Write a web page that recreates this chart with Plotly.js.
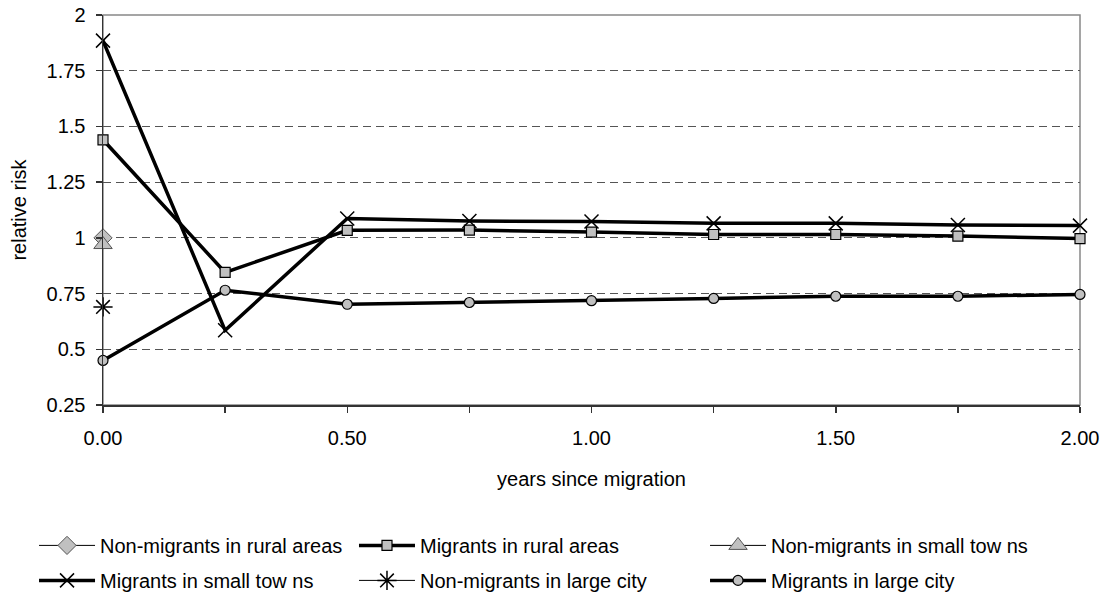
<!DOCTYPE html>
<html>
<head>
<meta charset="utf-8">
<script src="https://cdn.plot.ly/plotly-3.0.1.min.js"></script>
<style>html,body{margin:0;padding:0;background:#fff;}#chart{width:1109px;height:601px;}</style>
</head>
<body>
<div id="chart"></div>
<script>
// years since migration
const years = [0, 0.25, 0.5, 0.75, 1.0, 1.25, 1.5, 1.75, 2.0];
const baseYear = [0];

// series values (relative risk)
const nonMigrantsRural = [1.0];
const migrantsRural = [1.44, 0.845, 1.034, 1.035, 1.026, 1.015, 1.015, 1.008, 0.997];
const nonMigrantsSmallTowns = [0.97];
const migrantsSmallTowns = [1.885, 0.585, 1.087, 1.076, 1.073, 1.065, 1.065, 1.058, 1.055];
const nonMigrantsLargeCity = [0.69];
const migrantsLargeCity = [0.45, 0.765, 0.702, 0.71, 0.718, 0.728, 0.738, 0.738, 0.746];

const seriesNames = [
  "Non-migrants in rural areas",
  "Migrants in rural areas",
  "Non-migrants in small tow ns",
  "Migrants in small tow ns",
  "Non-migrants in large city",
  "Migrants in large city"
];

const xTickVals = [0, 0.5, 1.0, 1.5, 2.0];
const yTickVals = [0.25, 0.5, 0.75, 1, 1.25, 1.5, 1.75, 2];

const FONT = "Liberation Sans, Arial, sans-serif";
const GRAY = "#c0c0c0";

const traces = [
  {x: baseYear, y: nonMigrantsRural, name: seriesNames[0], legend: "legend",
   line: {color: "#000", width: 1},
   marker: {symbol: "diamond", size: 14, color: GRAY, line: {color: "#555", width: 1}}},
  {x: years, y: migrantsRural, name: seriesNames[1], legend: "legend2",
   line: {color: "#000", width: 3.5},
   marker: {symbol: "square", size: 10, color: GRAY, line: {color: "#000", width: 1.2}}},
  {x: baseYear, y: nonMigrantsSmallTowns, name: seriesNames[2], legend: "legend3",
   line: {color: "#000", width: 1},
   marker: {symbol: "triangle-up", size: 16, color: GRAY, line: {color: "#555", width: 1}}},
  {x: years, y: migrantsSmallTowns, name: seriesNames[3], legend: "legend",
   line: {color: "#000", width: 3.5},
   marker: {symbol: "x-thin-open", size: 14, color: "#000", line: {color: "#000", width: 1.5}}},
  {x: baseYear, y: nonMigrantsLargeCity, name: seriesNames[4], legend: "legend2",
   line: {color: "#000", width: 1},
   marker: {symbol: "asterisk-open", size: 16, color: "#000", line: {color: "#000", width: 1.5}}},
  {x: years, y: migrantsLargeCity, name: seriesNames[5], legend: "legend3",
   line: {color: "#000", width: 3.5},
   marker: {symbol: "circle", size: 10, color: GRAY, line: {color: "#000", width: 1.2}}}
];
traces.forEach((t, i) => {
  t.type = "scatter"; t.mode = "lines+markers"; t.cliponaxis = false;
  t.legendgroup = "g" + i;
});

function legendAt(x) {
  return {
    orientation: "v", x: x, xanchor: "left", y: -0.31, yanchor: "top",
    font: {family: FONT, size: 20}, itemwidth: 56, tracegroupgap: 6,
    bgcolor: "rgba(0,0,0,0)", borderwidth: 0
  };
}

const layout = {
  width: 1109, height: 601,
  margin: {l: 103, r: 29, t: 15, b: 196, pad: 0, autoexpand: false},
  paper_bgcolor: "#fff", plot_bgcolor: "#fff",
  font: {family: FONT, size: 20, color: "#000"},
  showlegend: true,
  xaxis: {
    range: [0, 2], tickvals: xTickVals, tickformat: ".2f",
    ticks: "outside", ticklen: 6, tickcolor: "#333", tickwidth: 1.5,
    ticklabelstandoff: 8,
    minor: {dtick: 0.25, ticks: "outside", ticklen: 6, tickcolor: "#333", tickwidth: 1.5, showgrid: false},
    showgrid: false, zeroline: false,
    showline: true, linecolor: "#333", linewidth: 1.5,
    tickfont: {family: FONT, size: 20},
    title: {text: "years since migration", font: {family: FONT, size: 20}, standoff: 24}
  },
  yaxis: {
    range: [0.25, 2], tickvals: yTickVals,
    ticks: "outside", ticklen: 6, tickcolor: "#333", tickwidth: 1.5,
    ticklabelstandoff: 6,
    showgrid: true, gridcolor: "#555", gridwidth: 1, griddash: "8px,5px",
    zeroline: false,
    showline: true, linecolor: "#333", linewidth: 1.5,
    tickfont: {family: FONT, size: 20},
    title: {text: "relative risk", font: {family: FONT, size: 20}, standoff: 14}
  },
  shapes: [{type: "rect", xref: "paper", yref: "paper", x0: 0, x1: 1, y0: 0, y1: 1,
            line: {color: "#888", width: 1.5}, layer: "between"}],
  legend: legendAt(-0.0706),
  legend2: legendAt(0.2569),
  legend3: legendAt(0.6162)
};

Plotly.newPlot("chart", traces, layout, {displayModeBar: false, staticPlot: true});
</script>
</body>
</html>
